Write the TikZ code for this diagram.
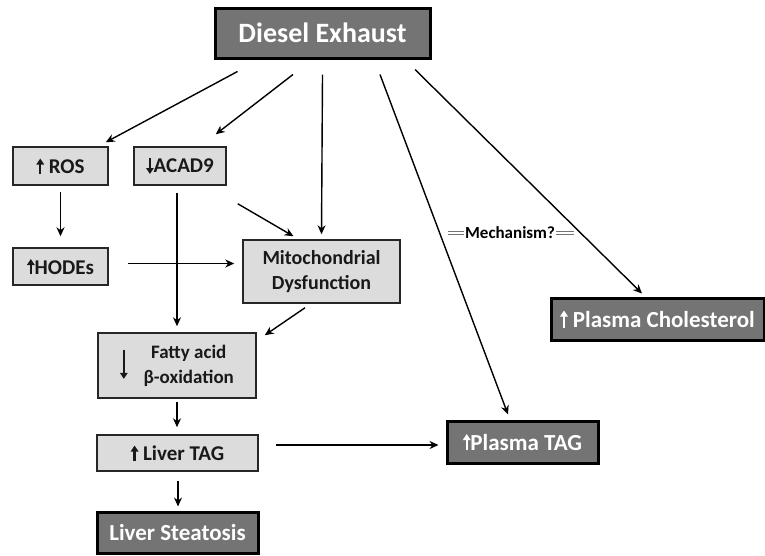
\documentclass[tikz,border=0pt]{standalone}
\usepackage{fontspec}
\setmainfont{Carlito}
\usetikzlibrary{calc,arrows.meta}
\definecolor{lightfill}{HTML}{DCDCDC}
\definecolor{darkfill}{HTML}{747474}
\tikzset{light box/.style={draw=black!85, line width=1.5pt, fill=lightfill, inner sep=0pt, text=black!90, font=\bfseries\fontsize{21}{25}\selectfont}}
\tikzset{dark box/.style={draw=black, line width=3pt, fill=darkfill, inner sep=0pt, text=white, font=\bfseries\fontsize{23}{27}\selectfont}}
\tikzset{flow arrow/.style={-{Stealth[length=9pt,width=8pt]}, line width=1.4pt}}
\tikzset{text arrow/.style={-{Triangle[length=6pt,width=7.5pt]}, line width=2.2pt}}
\tikzset{mechanism line/.style={draw=black!55, line width=0.8pt}}
\newcommand\uparr[2]{\tikz[baseline=#2]\draw[text arrow] (0pt,0pt) -- (0pt,#1);}
\newcommand\downarr[2]{\tikz[baseline=#2]\draw[text arrow] (0pt,#1) -- (0pt,0pt);}

\begin{document}
\begin{tikzpicture}[x=1pt, y=-1pt]
\useasboundingbox (0,0) rectangle (765,555);

% boxes
\node[dark box, minimum width=215pt, minimum height=50pt, font=\bfseries\fontsize{28}{32}\selectfont] (exhaust) at (322.5,33) {Diesel Exhaust};
\node[light box, minimum width=95pt, minimum height=38pt] (ros) at (60.5,166) {\uparr{15pt}{0pt}\ ROS};
\node[light box, minimum width=92pt, minimum height=38pt] (acad) at (180,166) {\downarr{16pt}{2pt}ACAD9};
\node[light box, minimum width=95pt, minimum height=37pt] (hodes) at (60.5,266.5) {\uparr{15pt}{0pt}HODEs};
\node[light box, minimum width=157pt, minimum height=63pt, align=center, font=\bfseries\fontsize{20}{25}\selectfont] (mito) at (321.5,271.5) {Mitochondrial\\Dysfunction};
\node[light box, minimum width=158pt, minimum height=65pt, font=\bfseries\fontsize{19}{25}\selectfont] (fatty) at (177,365.5) {\downarr{29pt}{9pt}\hspace{16pt}\begin{tabular}{@{}c@{}}Fatty acid\\β-oxidation\end{tabular}};
\node[light box, minimum width=161pt, minimum height=36pt] (livertag) at (177.5,453) {\uparr{15pt}{0pt}\ Liver TAG};
\node[dark box, minimum width=161pt, minimum height=41pt] (steatosis) at (177.5,532.5) {Liver Steatosis};
\node[dark box, minimum width=151pt, minimum height=42pt] (plasmatag) at (522.5,442) {\uparr{16pt}{0pt}Plasma\ TAG};
\node[dark box, minimum width=213pt, minimum height=42pt] (cholesterol) at (657.5,319) {\uparr{17pt}{0pt}\ Plasma\ Cholesterol};

% label on the plasma TAG arrow
\node[inner sep=1pt, font=\bfseries\fontsize{17}{19}\selectfont] (mechanism) at (510,233) {Mechanism?};
\draw[mechanism line] ($(mechanism.west)+(0,-1.6)$) -- ++(-16,0);
\draw[mechanism line] ($(mechanism.west)+(0,1.6)$) -- ++(-16,0);
\draw[mechanism line] ($(mechanism.east)+(0,-1.6)$) -- ++(18,0);
\draw[mechanism line] ($(mechanism.east)+(0,1.6)$) -- ++(18,0);

% arrows
\draw[flow arrow] ($(exhaust.south)+(-85,12)$) -- ($(ros.north east)+(-3,-4)$);
\draw[flow arrow] ($(exhaust.south)+(-29.5,15)$) -- ($(acad.north east)+(-11,-12)$);
\draw[flow arrow] ($(exhaust.south)+(0,15)$) -- ($(mito.north)+(0,-5)$);
\draw[flow arrow] ($(exhaust.south)+(57.5,15)$) -- ($(plasmatag.north)+(-14.5,-5)$);
\draw[flow arrow] ($(exhaust.south)+(92.5,10)$) -- ($(cholesterol.north)+(-15.5,-3)$);
\draw[flow arrow] ($(ros.south)+(0,6)$) -- ($(hodes.north)+(0,-11)$);
\draw[flow arrow] ($(hodes.east)+(19,-3)$) -- ($(mito.west)+(-8,-8)$);
\draw[flow arrow] ($(acad.south)+(-3,7)$) -- ($(fatty.north)+(0,-6)$);
\draw[flow arrow] ($(acad.south east)+(11,18)$) -- ($(mito.north)+(-28,-3)$);
\draw[flow arrow] ($(mito.south)+(-16.5,4)$) -- ($(fatty.north east)+(8,3)$);
\draw[flow arrow] ($(fatty.south)+(0,3)$) -- ($(livertag.north)+(-0.5,-7)$);
\draw[flow arrow] ($(livertag.east)+(17,-8)$) -- ($(plasmatag.west)+(-7,3)$);
\draw[flow arrow] ($(livertag.south)+(0.5,9)$) -- ($(steatosis.north)+(0.5,-4)$);

\end{tikzpicture}
\end{document}
